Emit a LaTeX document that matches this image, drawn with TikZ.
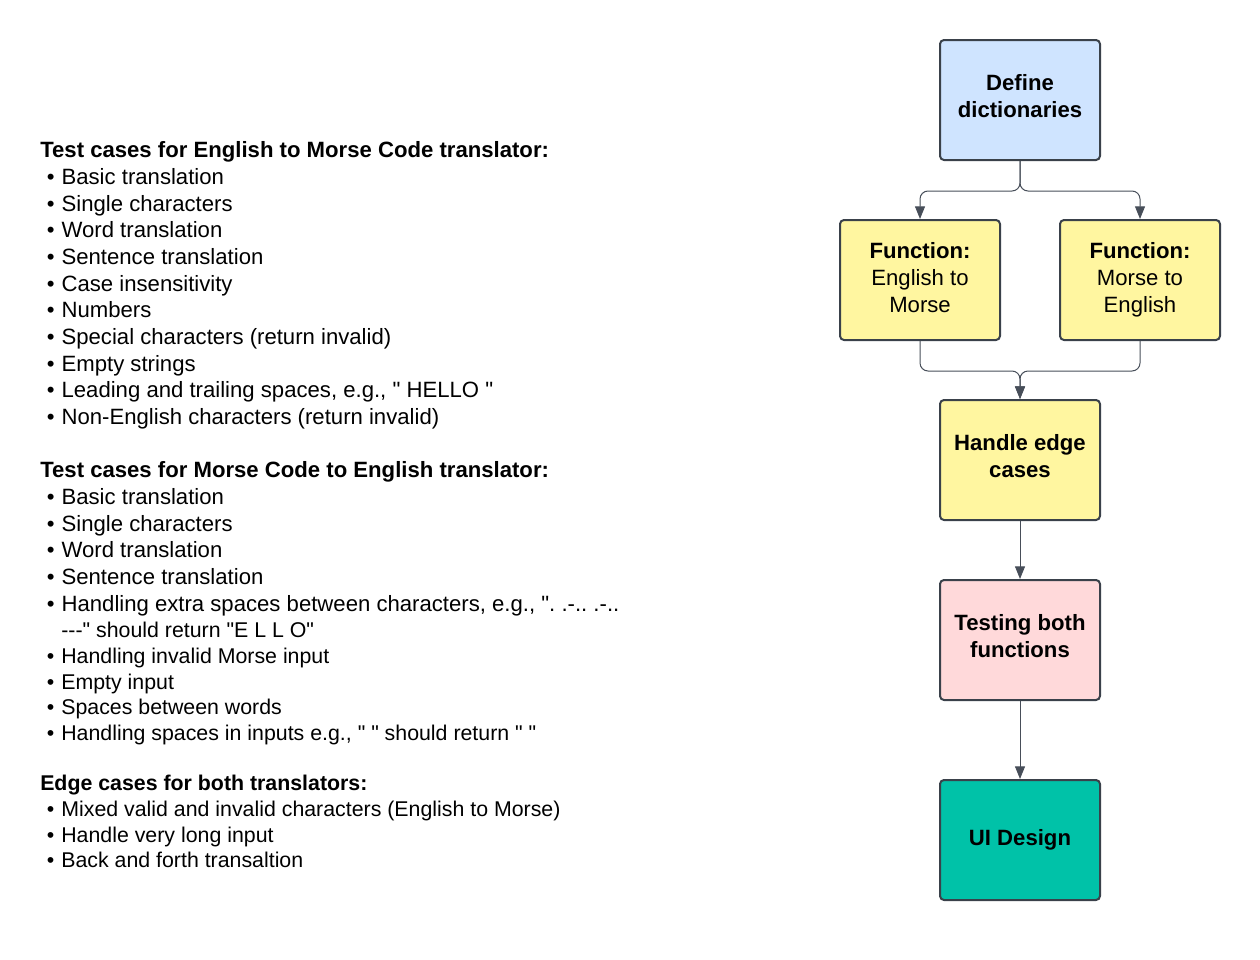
\documentclass[tikz,border=0pt]{standalone}
\usepackage{fontspec}
\newfontfamily\letra{Liberation Sans}
\usepackage{tikz}
\usetikzlibrary{arrows.meta,positioning}
\definecolor{azul}{HTML}{CFE4FF}
\definecolor{amarillo}{HTML}{FFF6A0}
\definecolor{rosa}{HTML}{FFD9DA}
\definecolor{verde}{HTML}{00C2A8}
\definecolor{borde}{HTML}{3A414A}
\definecolor{linea}{HTML}{474E59}
\newcommand{\punto}{\hspace*{5pt}\textbullet\hspace{5.2pt}}
\newcommand{\sinpunto}{\hspace*{5pt}\phantom{\textbullet}\hspace{5.2pt}}
\newcommand{\prof}[1]{\rule[-#1]{0pt}{#1}}
\frenchspacing

\begin{document}
\begin{tikzpicture}[x=0.75pt,y=-0.75pt,
        bloque/.style={rectangle,draw=borde,line width=1.5pt,rounded corners=3pt,
          minimum width=120pt,minimum height=90pt,align=center,
          font=\letra\fontsize{16.6}{20}\selectfont},
        texto/.style={anchor=north west,inner sep=0pt,align=left,
          font=\letra\fontsize{16.6}{20}\selectfont},
        textochico/.style={texto,font=\letra\fontsize{16}{19.35}\selectfont},
        >={Triangle[length=9.5pt,width=7.5pt]},
        flecha/.style={->,draw=linea,line width=0.75pt,rounded corners=6pt}]
      \useasboundingbox (0,0) rectangle (1260,960);
      % lists of test cases
      \node [texto] (ingles) at (40,141.5) {\textbf{Test cases for English to Morse Code translator:}\\
        \punto Basic translation\\
        \punto Single characters\\
        \punto Word translation\\
        \punto Sentence translation\\
        \punto Case insensitivity\\
        \punto Numbers\\
        \punto Special characters (return invalid)\\
        \punto Empty strings\\
        \punto Leading and trailing spaces, e.g., " HELLO "\\
        \punto Non-English characters (return invalid)};
      \node [texto] (morse) at (40,461.5) {\textbf{Test cases for Morse Code to English translator:}\\
        \punto Basic translation\\
        \punto Single characters\\
        \punto Word translation\\
        \punto Sentence translation\\
        \punto Handling extra spaces between characters, e.g., ". .-.. .-..};
      \node [textochico] (morsebis) at (40,621.8) {\sinpunto ---" should return "E L L O"\\
        \punto Handling invalid Morse input\\
        \punto Empty input\\
        \punto Spaces between words\\
        \punto Handling spaces in inputs e.g., " " should return " "};
      \node [textochico] (ambos) at (40,774.8) {\textbf{Edge cases for both translators:}\\
        \punto Mixed valid and invalid characters (English to Morse)\\
        \punto Handle very long input\\
        \punto Back and forth transaltion};
      % flow chart
      \node [bloque,fill=azul]     (def)  at (1020,100) {\textbf{Define}\\\textbf{dictionaries}\prof{5.7pt}};
      \node [bloque,fill=amarillo] (em)   at (920,280)  {\textbf{Function:}\\English to\\Morse\prof{3.7pt}};
      \node [bloque,fill=amarillo] (me)   at (1140,280) {\textbf{Function:}\\Morse to\\English\prof{3.7pt}};
      \node [bloque,fill=amarillo] (edge) at (1020,460) {\textbf{Handle edge}\\\textbf{cases}\prof{5.7pt}};
      \node [bloque,fill=rosa]     (test) at (1020,640) {\textbf{Testing both}\\\textbf{functions}\prof{5.7pt}};
      \node [bloque,fill=verde]    (ui)   at (1020,840) {\textbf{UI Design}};
      \path[flecha]
      (def.south) -- ++(0,30) -| (em.north);
      \path[flecha]
      (def.south) -- ++(0,30) -| (me.north);
      \path[flecha]
      (em.south) -- ++(0,30) -| (edge.north);
      \path[flecha]
      (me.south) -- ++(0,30) -| (edge.north);
      \path[flecha] (edge) -- (test);
      \path[flecha] (test) -- (ui);
    \end{tikzpicture}
\end{document}
